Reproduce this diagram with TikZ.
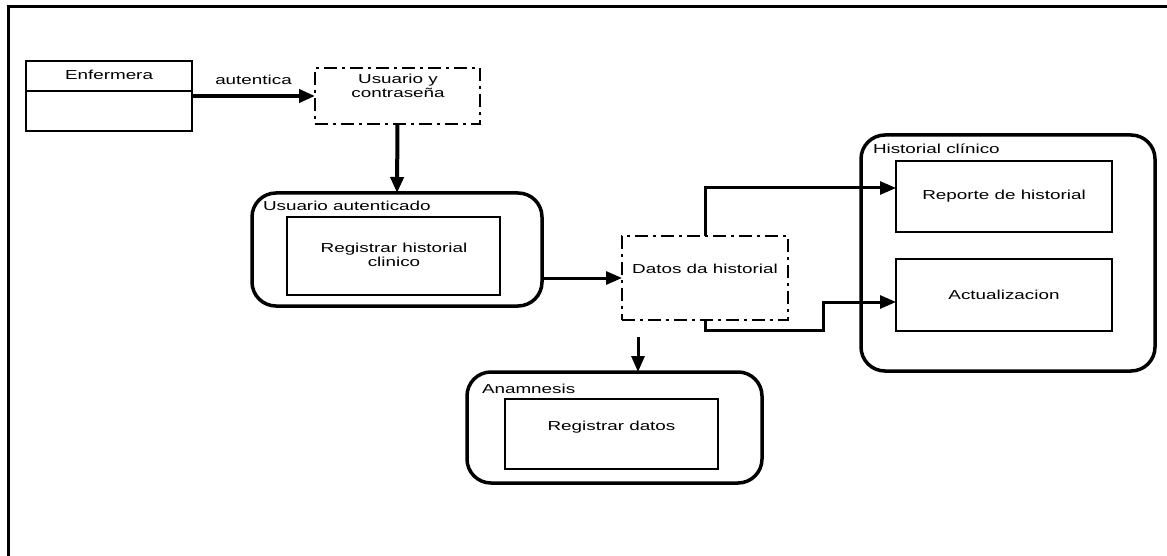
\documentclass[tikz,border=0pt]{standalone}
\usepackage{fontspec}
\setmainfont{Liberation Sans}[FakeStretch=1.45]
\usetikzlibrary{arrows.meta}
\begin{document}
\begin{tikzpicture}[x=1pt,y=-1pt,
  every node/.style={font=\fontsize{13}{13.5}\selectfont, inner sep=0pt, outer sep=0pt},
  plainbox/.style={draw, line width=2pt},
  ddbox/.style={draw, line width=2pt, dash pattern=on 13pt off 5pt on 3pt off 5pt},
  groupbox/.style={draw, line width=3.5pt, rounded corners=24pt},
  conn/.style={line width=3pt, -{Triangle[length=16pt,width=13pt]}},
  thickconn/.style={conn, line width=4.5pt},
  grouplbl/.style={anchor=base west},
]
\useasboundingbox (0,0) rectangle (1167,556);

% page frame (top and left rules)
\draw[line width=3pt] (1167,7) -- (8,7) -- (8,556);

% actor
\node[plainbox, minimum width=166, minimum height=70] (enf) at (109,96) {};
\draw[line width=2pt] ([yshift=-30pt]enf.north west) -- ([yshift=-30pt]enf.north east);
\node[anchor=base] (enft) at (109,80) {Enfermera};

% credentials
\node[ddbox, minimum width=165, minimum height=56] (uc) at (397.5,96) {};
\node[align=center] (uct) at (398,86) {Usuario y\\contraseña};

\draw[thickconn] (enf.east) -- node[above=11pt] (aut) {autentica} (uc.west);

% authenticated user
\node[groupbox, minimum width=290, minimum height=113] (ua) at (397,249.5) {};
\node[grouplbl] (ual) at (263,211) {Usuario autenticado};
\node[plainbox, minimum width=213, minimum height=78] (reg) at (393.5,256) {};
\node[align=center] (regt) at (394,255) {Registrar historial\\clinico};

\draw[thickconn, line width=4pt] (uc.south) -- (ua.north);

% record data
\node[ddbox, minimum width=166, minimum height=84] (dt) at (705,278) {};
\node (dtt) at (705,269) {Datos da historial};

\draw[conn] (ua.east |- dt.west) -- (dt.west);

% clinical history
\node[groupbox, minimum width=294, minimum height=236] (hc) at (1008,253) {};
\node[grouplbl] (hcl) at (873,154) {Historial clínico};
\node[plainbox, minimum width=216, minimum height=71] (rep) at (1004,196.5) {Reporte de historial};
\node[plainbox, minimum width=216, minimum height=72] (act) at (1004,295) {Actualizacion};

\draw[conn] (dt.north) |- ([yshift=8.5pt]rep.west);
\draw[conn] (dt.south) -- ++(0,10) -- ++(118,0) |- ([yshift=-7pt]act.west);

% anamnesis
\node[groupbox, minimum width=295, minimum height=111] (an) at (614.5,427.5) {};
\node[grouplbl] (anl) at (482,393) {Anamnesis};
\node[plainbox, minimum width=213, minimum height=70] (rd) at (611.5,434) {};
\node (rdt) at (611.5,427) {Registrar datos};

\draw[conn, shorten <=17pt] ([xshift=-67pt]dt.south) -- ([xshift=-67pt]dt.south |- an.north);
\end{tikzpicture}
\end{document}
